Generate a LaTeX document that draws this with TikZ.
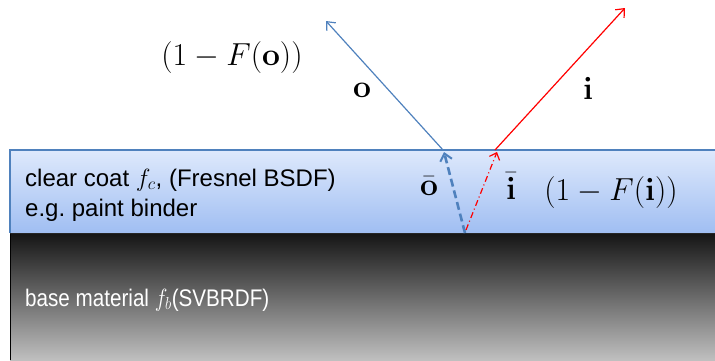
\documentclass[tikz,border=0pt]{standalone}
\usepackage[no-math]{fontspec}
\setmainfont{Liberation Sans}
\usetikzlibrary{arrows.meta}
\definecolor{coatblue}{RGB}{79,129,189}
\definecolor{coattop}{RGB}{222,233,252}
\definecolor{coatbot}{RGB}{160,190,242}

\begin{document}
\begin{tikzpicture}[x=1pt,y=1pt,
  every node/.style={inner sep=0pt},
  txt/.style={font=\fontsize{24}{30}\selectfont},
  mlabel/.style={font=\fontsize{24}{28}\selectfont},
  rayo/.style={coatblue,line width=1.2pt,-{Straight Barb[length=7pt,width=12pt]}},
  rayi/.style={red,line width=1.2pt,-{Straight Barb[length=7pt,width=12pt]}},
  rayob/.style={coatblue,line width=2.6pt,dash pattern=on 8pt off 4pt,-{Straight Barb[length=7pt,width=12pt,line width=2pt]}},
  rayib/.style={red,line width=1.2pt,dash pattern=on 6pt off 3pt on 1pt off 3pt,-{Straight Barb[length=6pt,width=11pt]}}]
\useasboundingbox (0,0) rectangle (715,360);
% layers
\shade[top color=black!92,bottom color=black!25] (10,0) rectangle (725,127);
\draw[black,line width=0.8pt] (10,0) -- (10,127);
\shade[top color=coattop,bottom color=coatbot] (10,127) rectangle (725,210);
\draw[coatblue,line width=1.2pt] (725,210) -- (10,210) -- (10,127);
\draw[black!85,line width=1pt] (10,127) -- (725,127);
% texts
\node[txt,anchor=west] (coat) at (25,180) {clear coat $f_c$, (Fresnel BSDF)};
\node[txt,anchor=west] (binder) at (25,150) {e.g.\ paint binder};
\node[txt,anchor=west,white] (base) at (25,60) {\scalebox{0.86}[1]{base material $f_b$(SVBRDF)}};
% rays
\coordinate (po) at (443,210);
\coordinate (pi) at (495,210);
\coordinate (to) at (326,339);
\coordinate (ti) at (625,352);
\coordinate (bo) at (465,127);
\coordinate (bi) at (466,130);
\coordinate (eo) at (444,208);
\coordinate (ei) at (497,208);
\draw[rayo] (po) -- (to);
\draw[rayi] (pi) -- (ti);
\draw[rayob] (bo) -- (eo);
\draw[rayib] (bi) -- (ei);
% labels
\node[mlabel] (fo) at (232,302) {\scalebox{1.28}{$(1-F(\mathbf{o}))$}};
\node[mlabel] (lo) at (362,270) {\scalebox{1.28}{$\mathbf{o}$}};
\node[mlabel] (li) at (588,272) {\scalebox{1.28}{$\mathbf{i}$}};
\node[mlabel] (lob) at (429,174) {\scalebox{1.28}{$\bar{\mathbf{o}}$}};
\node[mlabel] (lib) at (511,174) {\scalebox{1.28}{$\bar{\mathbf{i}}$}};
\node[mlabel] (fi) at (611,167) {\scalebox{1.28}{$(1-F(\mathbf{i}))$}};
\end{tikzpicture}
\end{document}
